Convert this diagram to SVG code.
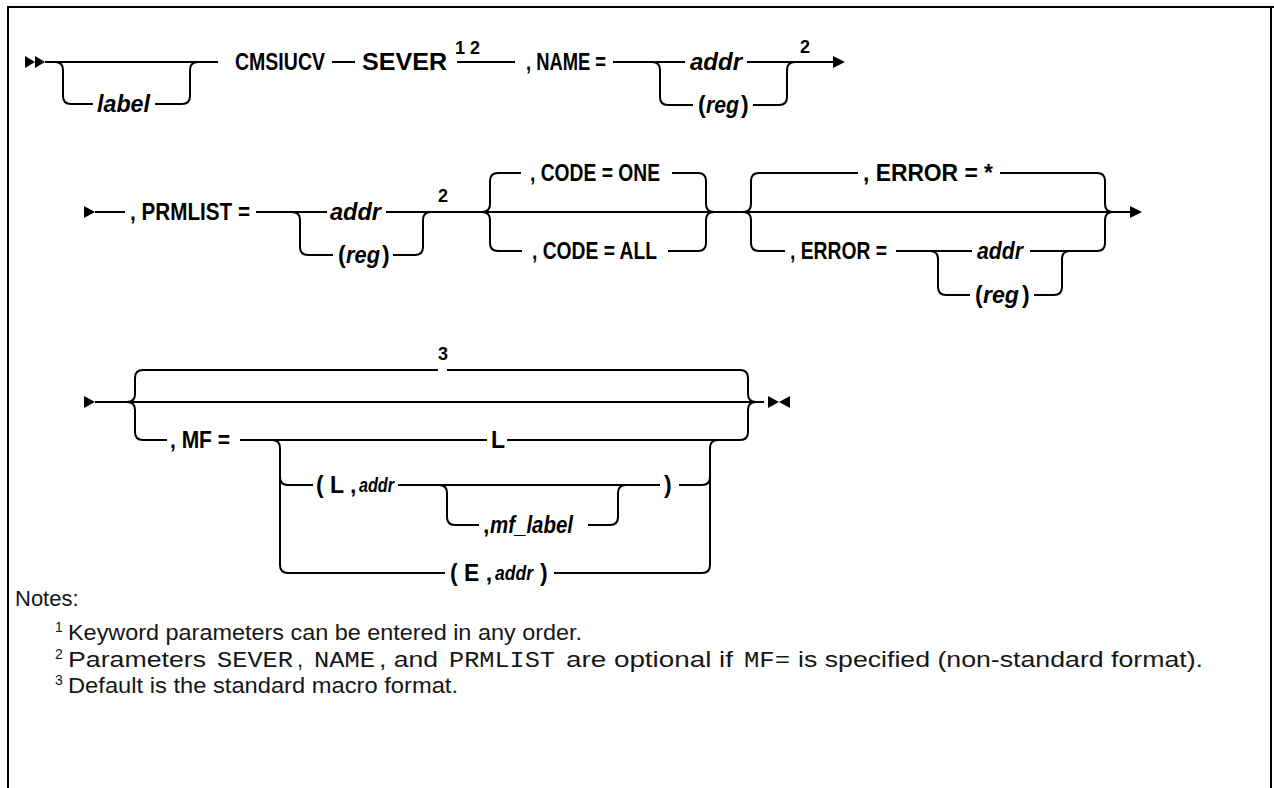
<svg xmlns="http://www.w3.org/2000/svg" width="1274" height="788" viewBox="0 0 1274 788">
<style>
.ln{stroke:#000;stroke-width:2;fill:none}
.ah{fill:#000;stroke:none}
.t{font-family:"Liberation Sans",Arial,sans-serif;font-weight:bold;font-size:23px;fill:#000}
.i{font-style:italic}
.s{font-size:20px}
.sup{font-family:"Liberation Sans",Arial,sans-serif;font-weight:bold;font-size:18px;fill:#000}
.n{font-family:"Liberation Sans",Arial,sans-serif;font-size:22px;fill:#161616}
.m{font-family:"Liberation Mono","DejaVu Sans Mono",monospace;font-size:22px;fill:#161616}
.ns{font-size:14px}
</style>
<rect width="1274" height="788" fill="#fff"/>
<g id="frame">
<path class="ln" d="M8,788 V7 H1274" stroke-width="3"/>
<path class="ln" d="M1271,7 V788"/>
</g>
<g id="connectors">
<polygon class="ah" points="25,56 35,62 25,68"/>
<polygon class="ah" points="35,56 45,62 35,68"/>
<path class="ln" d="M45,62 H218"/>
<path class="ln" d="M55,62 Q63,62 63,70 V96 Q63,104 71,104 H93"/>
<path class="ln" d="M155,104 H182 Q190,104 190,96 V70 Q190,62 198,62"/>
<path class="ln" d="M332,62 H355"/>
<path class="ln" d="M457,62 H515"/>
<path class="ln" d="M613,62 H685"/>
<path class="ln" d="M652,62 Q660,62 660,70 V97 Q660,105 668,105 H693"/>
<path class="ln" d="M747,62 H834"/>
<polygon class="ah" points="833,56 845,62 833,68"/>
<path class="ln" d="M753,105 H779 Q787,105 787,97 V70 Q787,62 795,62"/>
<polygon class="ah" points="84,206 95,212 84,218"/>
<path class="ln" d="M95,212 H125"/>
<path class="ln" d="M256,212 H327"/>
<path class="ln" d="M386,212 H487"/>
<path class="ln" d="M292,212 Q300,212 300,220 V247 Q300,255 308,255 H333"/>
<path class="ln" d="M393,255 H415 Q423,255 423,247 V220 Q423,212 431,212"/>
<path class="ln" d="M487,212 H1131"/>
<path class="ln" d="M482,212 Q490,212 490,204 V181 Q490,173 498,173 H521"/>
<path class="ln" d="M672,173 H698 Q706,173 706,181 V204 Q706,212 714,212"/>
<path class="ln" d="M482,212 Q490,212 490,220 V243 Q490,251 498,251 H522"/>
<path class="ln" d="M668,251 H698 Q706,251 706,243 V220 Q706,212 714,212"/>
<path class="ln" d="M743,212 Q751,212 751,204 V181 Q751,173 759,173 H858"/>
<path class="ln" d="M1000,173 H1097 Q1105,173 1105,181 V204 Q1105,212 1113,212"/>
<polygon class="ah" points="1130,206 1142,212 1130,218"/>
<path class="ln" d="M743,212 Q751,212 751,220 V243 Q751,251 759,251 H785"/>
<path class="ln" d="M896,251 H972"/>
<path class="ln" d="M1030,251 H1097 Q1105,251 1105,243 V220 Q1105,212 1113,212"/>
<path class="ln" d="M930,251 Q938,251 938,259 V287 Q938,295 946,295 H970"/>
<path class="ln" d="M1034,295 H1054 Q1062,295 1062,287 V259 Q1062,251 1070,251"/>
<polygon class="ah" points="84,396 95,402 84,408"/>
<path class="ln" d="M95,402 H764"/>
<path class="ln" d="M127,402 Q135,402 135,394 V378 Q135,370 143,370 H438"/>
<path class="ln" d="M447,370 H740 Q748,370 748,378 V394 Q748,402 756,402"/>
<path class="ln" d="M127,402 Q135,402 135,410 V432 Q135,440 143,440 H167"/>
<path class="ln" d="M240,440 H487"/>
<path class="ln" d="M507,440 H740 Q748,440 748,432 V410 Q748,402 756,402"/>
<polygon class="ah" points="768,396 779,402 768,408"/>
<polygon class="ah" points="790,396 779,402 790,408"/>
<path class="ln" d="M272,440 Q280,440 280,448 V565 Q280,573 288,573 H445"/>
<path class="ln" d="M280,477 Q280,485 288,485 H313"/>
<path class="ln" d="M398,485 H660"/>
<path class="ln" d="M679,485 H702 Q710,485 710,477"/>
<path class="ln" d="M554,573 H702 Q710,573 710,565 V448 Q710,440 718,440"/>
<path class="ln" d="M439,485 Q447,485 447,493 V517 Q447,525 455,525 H479"/>
<path class="ln" d="M588,525 H610 Q618,525 618,517 V493 Q618,485 626,485"/>
</g>
<g id="n-label"><text class="t i" x="97" y="112" textLength="53" lengthAdjust="spacingAndGlyphs">label</text></g>
<g id="n-cmsiucv"><text class="t" x="235" y="70" textLength="90" lengthAdjust="spacingAndGlyphs">CMSIUCV</text></g>
<g id="n-sever"><text class="t" x="362" y="70" textLength="85" lengthAdjust="spacingAndGlyphs">SEVER</text>
<text class="sup" x="455" y="54">1 2</text></g>
<g id="n-name"><text class="t" x="526" y="70" textLength="80" lengthAdjust="spacingAndGlyphs">, NAME =</text></g>
<g id="n-name-addr"><text class="t i" x="690" y="70" textLength="52" lengthAdjust="spacingAndGlyphs">addr</text></g>
<g id="n-name-reg"><text class="t" x="698" y="113">(</text><text class="t i" x="706" y="113" textLength="33" lengthAdjust="spacingAndGlyphs">reg</text><text class="t" x="741" y="113">)</text>
<text class="sup" x="800" y="53">2</text></g>
<g id="n-prmlist"><text class="t" x="130" y="220" textLength="120" lengthAdjust="spacingAndGlyphs">, PRMLIST =</text></g>
<g id="n-prm-addr"><text class="t i" x="330" y="220" textLength="51" lengthAdjust="spacingAndGlyphs">addr</text></g>
<g id="n-prm-reg"><text class="t" x="338" y="263">(</text><text class="t i" x="346" y="263" textLength="34" lengthAdjust="spacingAndGlyphs">reg</text><text class="t" x="382" y="263">)</text>
<text class="sup" x="438" y="202">2</text></g>
<g id="n-code-one"><text class="t" x="530" y="181" textLength="130" lengthAdjust="spacingAndGlyphs">, CODE = ONE</text></g>
<g id="n-code-all"><text class="t" x="532" y="259" textLength="125" lengthAdjust="spacingAndGlyphs">, CODE = ALL</text></g>
<g id="n-error-star"><text class="t" x="863" y="181" textLength="130" lengthAdjust="spacingAndGlyphs">, ERROR = *</text></g>
<g id="n-error"><text class="t" x="790" y="259" textLength="97" lengthAdjust="spacingAndGlyphs">, ERROR =</text></g>
<g id="n-err-addr"><text class="t i" x="977" y="259" textLength="46" lengthAdjust="spacingAndGlyphs">addr</text></g>
<g id="n-err-reg"><text class="t" x="975" y="303">(</text><text class="t i" x="983" y="303" textLength="36" lengthAdjust="spacingAndGlyphs">reg</text><text class="t" x="1022" y="303">)</text></g>
<g id="n-default"><text class="sup" x="438" y="360">3</text></g>
<g id="n-mf"><text class="t" x="170" y="448" textLength="60" lengthAdjust="spacingAndGlyphs">, MF =</text></g>
<g id="n-mf-l"><text class="t" x="491" y="448">L</text></g>
<g id="n-mf-laddr"><text class="t" x="316" y="493">( L ,</text><text class="t i s" x="359" y="492" textLength="35" lengthAdjust="spacingAndGlyphs">addr</text>
<text class="t" x="664" y="493">)</text></g>
<g id="n-mf-label"><text class="t" x="483" y="533">,</text><text class="t i" x="490" y="533" textLength="83" lengthAdjust="spacingAndGlyphs">mf_label</text></g>
<g id="n-mf-eaddr"><text class="t" x="450" y="581" textLength="42" lengthAdjust="spacingAndGlyphs">( E ,</text><text class="t i s" x="495" y="580" textLength="38" lengthAdjust="spacingAndGlyphs">addr</text><text class="t" x="540" y="581">)</text></g>
<g id="notes">
<text class="n" x="15" y="606">Notes:</text>
<text class="n ns" x="55" y="632">1</text>
<text class="n" x="68" y="640" textLength="514" lengthAdjust="spacingAndGlyphs">Keyword parameters can be entered in any order.</text>
<text class="n ns" x="55" y="659">2</text>
<text class="n" x="68" y="667" textLength="138" lengthAdjust="spacingAndGlyphs">Parameters</text>
<text class="m" x="217" y="667" textLength="76" lengthAdjust="spacingAndGlyphs">SEVER</text>
<text class="n" x="297" y="667">,</text>
<text class="m" x="314" y="667" textLength="61" lengthAdjust="spacingAndGlyphs">NAME</text>
<text class="n" x="379" y="667" textLength="59" lengthAdjust="spacingAndGlyphs">, and</text>
<text class="m" x="449" y="667" textLength="106" lengthAdjust="spacingAndGlyphs">PRMLIST</text>
<text class="n" x="566" y="667" textLength="167" lengthAdjust="spacingAndGlyphs">are optional if</text>
<text class="m" x="744" y="667" textLength="46" lengthAdjust="spacingAndGlyphs">MF=</text>
<text class="n" x="798" y="667" textLength="405" lengthAdjust="spacingAndGlyphs">is specified (non-standard format).</text>
<text class="n ns" x="55" y="685">3</text>
<text class="n" x="68" y="693" textLength="390" lengthAdjust="spacingAndGlyphs">Default is the standard macro format.</text>
</g>
</svg>
